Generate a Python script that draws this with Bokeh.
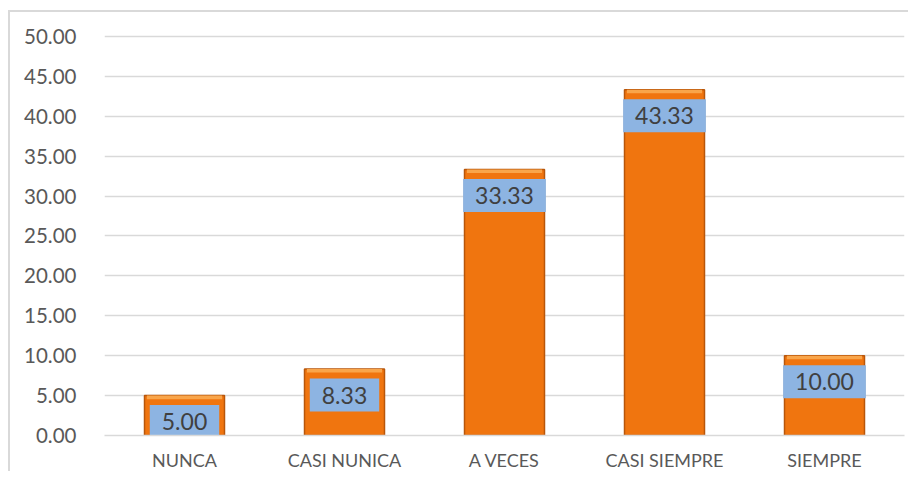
from bokeh.plotting import figure
from bokeh.models import ColumnDataSource, FactorRange, Range1d, FixedTicker, NumeralTickFormatter
from bokeh.core.properties import value
from bokeh.embed import file_html
from bokeh.resources import INLINE

categories = ["NUNCA", "CASI NUNICA", "A VECES", "CASI SIEMPRE", "SIEMPRE"]
values = [5.00, 8.33, 33.33, 43.33, 10.00]
y_ticks = [0, 5, 10, 15, 20, 25, 30, 35, 40, 45, 50]

labels = [f"{v:.2f}" for v in values]
bevel = [v - 0.45 for v in values]
src = ColumnDataSource(dict(cat=categories, val=values, lab=labels, bev=bevel))

p = figure(x_range=FactorRange(*categories, range_padding=0), y_range=Range1d(0, 50.25),
           width=900, height=461, output_backend="svg", toolbar_location=None,
           min_border_left=94, min_border_right=6, min_border_top=22, min_border_bottom=30,
           styles={"margin-left": "8px", "margin-top": "10px",
                   "border-left": "2px solid #d9d9d9", "border-top": "2px solid #d9d9d9"})
p.outline_line_color = None
p.background_fill_color = "white"
p.border_fill_color = "white"

p.vbar(x="cat", top="val", bottom=0, width=0.5, source=src,
       fill_color="#F0750F", line_color="#B8560A", line_width=1.5)
p.vbar(x="cat", top="val", bottom="bev", width=0.47, source=src,
       fill_color="#F9A54A", line_color=None)

p.text(x="cat", y="val", text="lab", source=src, text_align="center",
       text_baseline="middle", y_offset=26, text_font=value("Lato"), text_font_size="23px",
       text_color="#404040", background_fill_color="#8DB4E2", padding=(12, 8))

p.xgrid.grid_line_color = None
p.ygrid.grid_line_color = "#D9D9D9"
p.ygrid.grid_line_width = 1.5
p.yaxis.ticker = FixedTicker(ticks=y_ticks)
p.yaxis.formatter = NumeralTickFormatter(format="0.00")
for ax in (p.xaxis, p.yaxis):
    ax.axis_line_color = None
    ax.major_tick_line_color = None
    ax.minor_tick_line_color = None
    ax.major_label_text_color = "#595959"
    ax.major_label_text_font = "Lato"
p.yaxis.major_label_text_font_size = "20.5px"
p.yaxis.major_label_standoff = 22
p.xaxis.major_label_text_font_size = "18px"
p.xaxis.major_label_standoff = 7
p.xaxis.axis_line_color = "#D9D9D9"
p.xaxis.axis_line_width = 1.5

open("out.html", "w").write(file_html(p, INLINE))
